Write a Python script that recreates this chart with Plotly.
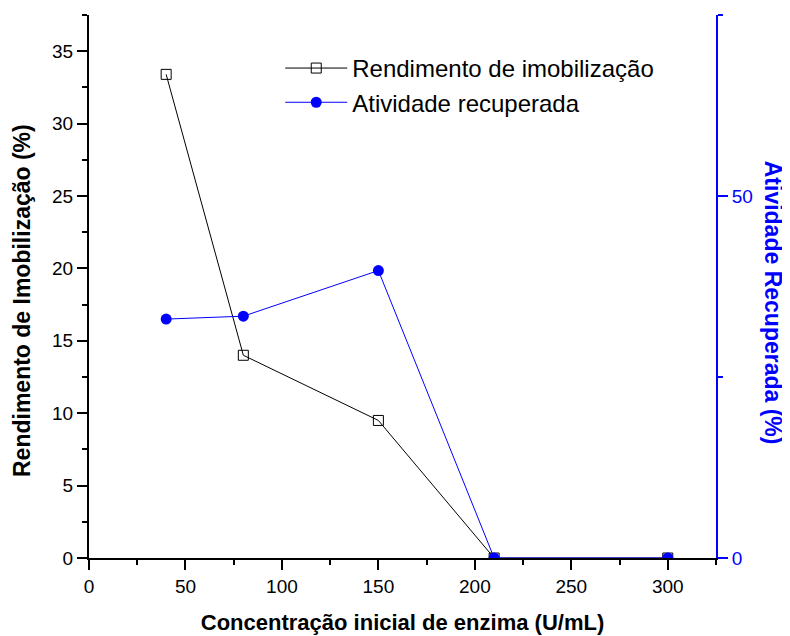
import plotly.graph_objects as go

# dados
conc = [40, 80, 150, 210, 300]
rendimento = [33.4, 14.0, 9.5, 0, 0]
atividade = [33.0, 33.4, 39.7, 0, 0]

FONT = "Liberation Sans, Arial, sans-serif"
BLUE = "#0000ff"

fig = go.Figure()

fig.add_trace(go.Scatter(
    x=conc, y=rendimento, name="Rendimento de imobilização",
    mode="lines+markers",
    line=dict(color="black", width=1),
    marker=dict(symbol="square-open", size=10, color="black", line=dict(width=1))
))
fig.add_trace(go.Scatter(
    x=conc, y=atividade, name="Atividade recuperada", yaxis="y2",
    mode="lines+markers",
    line=dict(color=BLUE, width=1),
    marker=dict(symbol="circle", size=11, color=BLUE)
))

# a página tem margem de 8px, por isso a figura é um pouco menor
fig.update_layout(
    width=782, height=628,
    margin=dict(l=81, r=74, t=7, b=78),
    plot_bgcolor="white", paper_bgcolor="white",
    font=dict(family=FONT, size=19, color="black"),
    xaxis=dict(
        range=[0, 325], dtick=50, tick0=0, automargin=False,
        showgrid=False, zeroline=False,
        showline=True, linecolor="black", linewidth=2,
        ticks="outside", ticklen=10, tickwidth=1.5, tickcolor="black",
        minor=dict(dtick=25, ticks="outside", ticklen=5, tickwidth=1.5, tickcolor="black"),
        title=dict(text="<b>Concentração inicial de enzima (U/mL)</b>",
                   font=dict(size=22), standoff=19),
    ),
    xaxis3=dict(
        overlaying="x", side="top", anchor="y", automargin=False,
        range=[0, 325], dtick=50, tick0=0,
        showgrid=False, zeroline=False, showticklabels=False,
        showline=True, linecolor="black", linewidth=2,
        ticks="inside", ticklen=6, tickwidth=1.5, tickcolor="black",
        minor=dict(dtick=25, ticks="inside", ticklen=6, tickwidth=1.5, tickcolor="black"),
    ),
    yaxis=dict(
        range=[0, 37.5], dtick=5, tick0=0, automargin=False,
        showgrid=False, zeroline=False,
        showline=True, linecolor="black", linewidth=2,
        ticks="outside", ticklen=10, tickwidth=1.5, tickcolor="black",
        minor=dict(dtick=2.5, ticks="outside", ticklen=5, tickwidth=1.5, tickcolor="black"),
    ),
    yaxis2=dict(
        overlaying="y", side="right", anchor="x", automargin=False,
        range=[0, 75], dtick=50, tick0=0,
        showgrid=False, zeroline=False,
        showline=True, linecolor=BLUE, linewidth=2,
        ticks="outside", ticklen=10, tickwidth=1.5, tickcolor=BLUE,
        tickfont=dict(color=BLUE),
        minor=dict(dtick=25, ticks="outside", ticklen=5, tickwidth=1.5, tickcolor=BLUE),
    ),
    legend=dict(
        x=0.305, y=0.943, xanchor="left", yanchor="top",
        bgcolor="rgba(0,0,0,0)", font=dict(size=24),
        itemwidth=62, tracegroupgap=0,
    ),
    annotations=[
        dict(text="<b>Rendimento de Imobilização (%)</b>", xref="paper", yref="paper",
             x=-0.107, y=0.475, xanchor="center", yanchor="middle",
             textangle=-90, showarrow=False, font=dict(size=23)),
        dict(text="<b>Atividade Recuperada (%)</b>", xref="paper", yref="paper",
             x=1.091, y=0.47, xanchor="center", yanchor="middle",
             textangle=90, showarrow=False, font=dict(size=23, color=BLUE)),
    ],
)

fig.write_html("out.html")
